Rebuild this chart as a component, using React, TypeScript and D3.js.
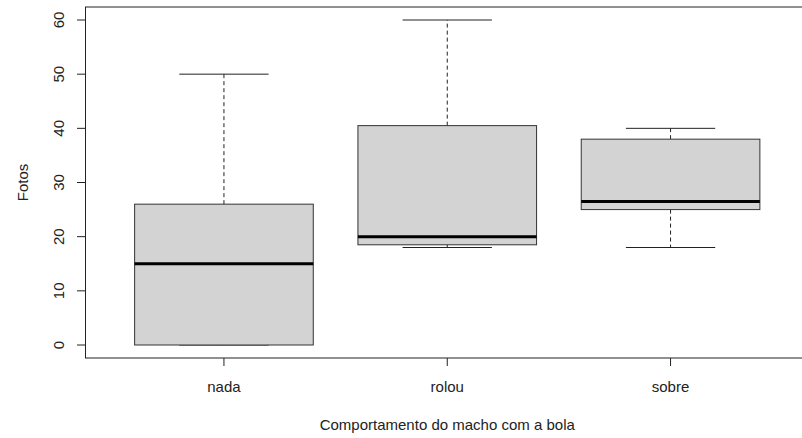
import React from "react";
import * as d3 from "d3";

// Five-number summaries per behaviour group
const categories = ["nada", "rolou", "sobre"];
const whiskerLow = [0, 18, 18];
const quartile1 = [0, 18.5, 25];
const medians = [15, 20, 26.5];
const quartile3 = [26, 40.5, 38];
const whiskerHigh = [50, 60, 40];
const yTicks = [0, 10, 20, 30, 40, 50, 60];

const W = 802;
const H = 438;
const FONT = "Liberation Sans, Arial, sans-serif";
const FS = 15;
const INK = "#222";

export default function App() {
  const n = categories.length;
  // R-style axis padding: 4% on each side of the data range
  const x = d3.scaleLinear().domain([0.38, n + 0.62]).range([85.5, 809]);
  const y = d3.scaleLinear().domain([-2.4, 62.4]).range([358, 7]);
  const boxHalf = 0.4;
  const stapleHalf = 0.2;
  const [x0, x1] = x.range();
  const [yb, yt] = y.range();

  return (
    <svg
      width={W}
      height={H}
      style={{ position: "absolute", left: 0, top: 0, background: "#fff" }}
      fontFamily={FONT}
    >
      {categories.map((c, i) => {
        const cx = x(i + 1);
        const left = x(i + 1 - boxHalf);
        const right = x(i + 1 + boxHalf);
        const sl = x(i + 1 - stapleHalf);
        const sr = x(i + 1 + stapleHalf);
        return (
          <g key={c}>
            <line x1={cx} x2={cx} y1={y(quartile3[i])} y2={y(whiskerHigh[i])} stroke={INK} strokeDasharray="4,3" />
            <line x1={cx} x2={cx} y1={y(quartile1[i])} y2={y(whiskerLow[i])} stroke={INK} strokeDasharray="4,3" />
            <line x1={sl} x2={sr} y1={y(whiskerHigh[i])} y2={y(whiskerHigh[i])} stroke={INK} />
            <line x1={sl} x2={sr} y1={y(whiskerLow[i])} y2={y(whiskerLow[i])} stroke={INK} />
            <rect
              x={left}
              y={y(quartile3[i])}
              width={right - left}
              height={y(quartile1[i]) - y(quartile3[i])}
              fill="#d3d3d3"
              stroke="#333"
              strokeWidth={1}
            />
            <line x1={left} x2={right} y1={y(medians[i])} y2={y(medians[i])} stroke="#000" strokeWidth={3} />
          </g>
        );
      })}

      {/* plot frame */}
      <rect x={x0} y={yt} width={x1 - x0} height={yb - yt} fill="none" stroke={INK} strokeWidth={1} />

      {/* y axis */}
      {yTicks.map((t) => (
        <g key={t}>
          <line x1={77} x2={x0} y1={y(t)} y2={y(t)} stroke={INK} />
          <text
            transform={`translate(64,${y(t)}) rotate(-90)`}
            textAnchor="middle"
            fontSize={FS}
            fill={INK}
          >
            {t}
          </text>
        </g>
      ))}
      <text transform={`translate(28,${(yb + yt) / 2}) rotate(-90)`} textAnchor="middle" fontSize={FS} fill={INK}>
        Fotos
      </text>

      {/* x axis */}
      {categories.map((c, i) => (
        <g key={c}>
          <line x1={x(i + 1)} x2={x(i + 1)} y1={yb} y2={yb + 8} stroke={INK} />
          <text x={x(i + 1)} y={yb + 34} textAnchor="middle" fontSize={FS} fill={INK}>
            {c}
          </text>
        </g>
      ))}
      <text x={x(2)} y={yb + 72} textAnchor="middle" fontSize={FS} fill={INK}>
        Comportamento do macho com a bola
      </text>
    </svg>
  );
}
